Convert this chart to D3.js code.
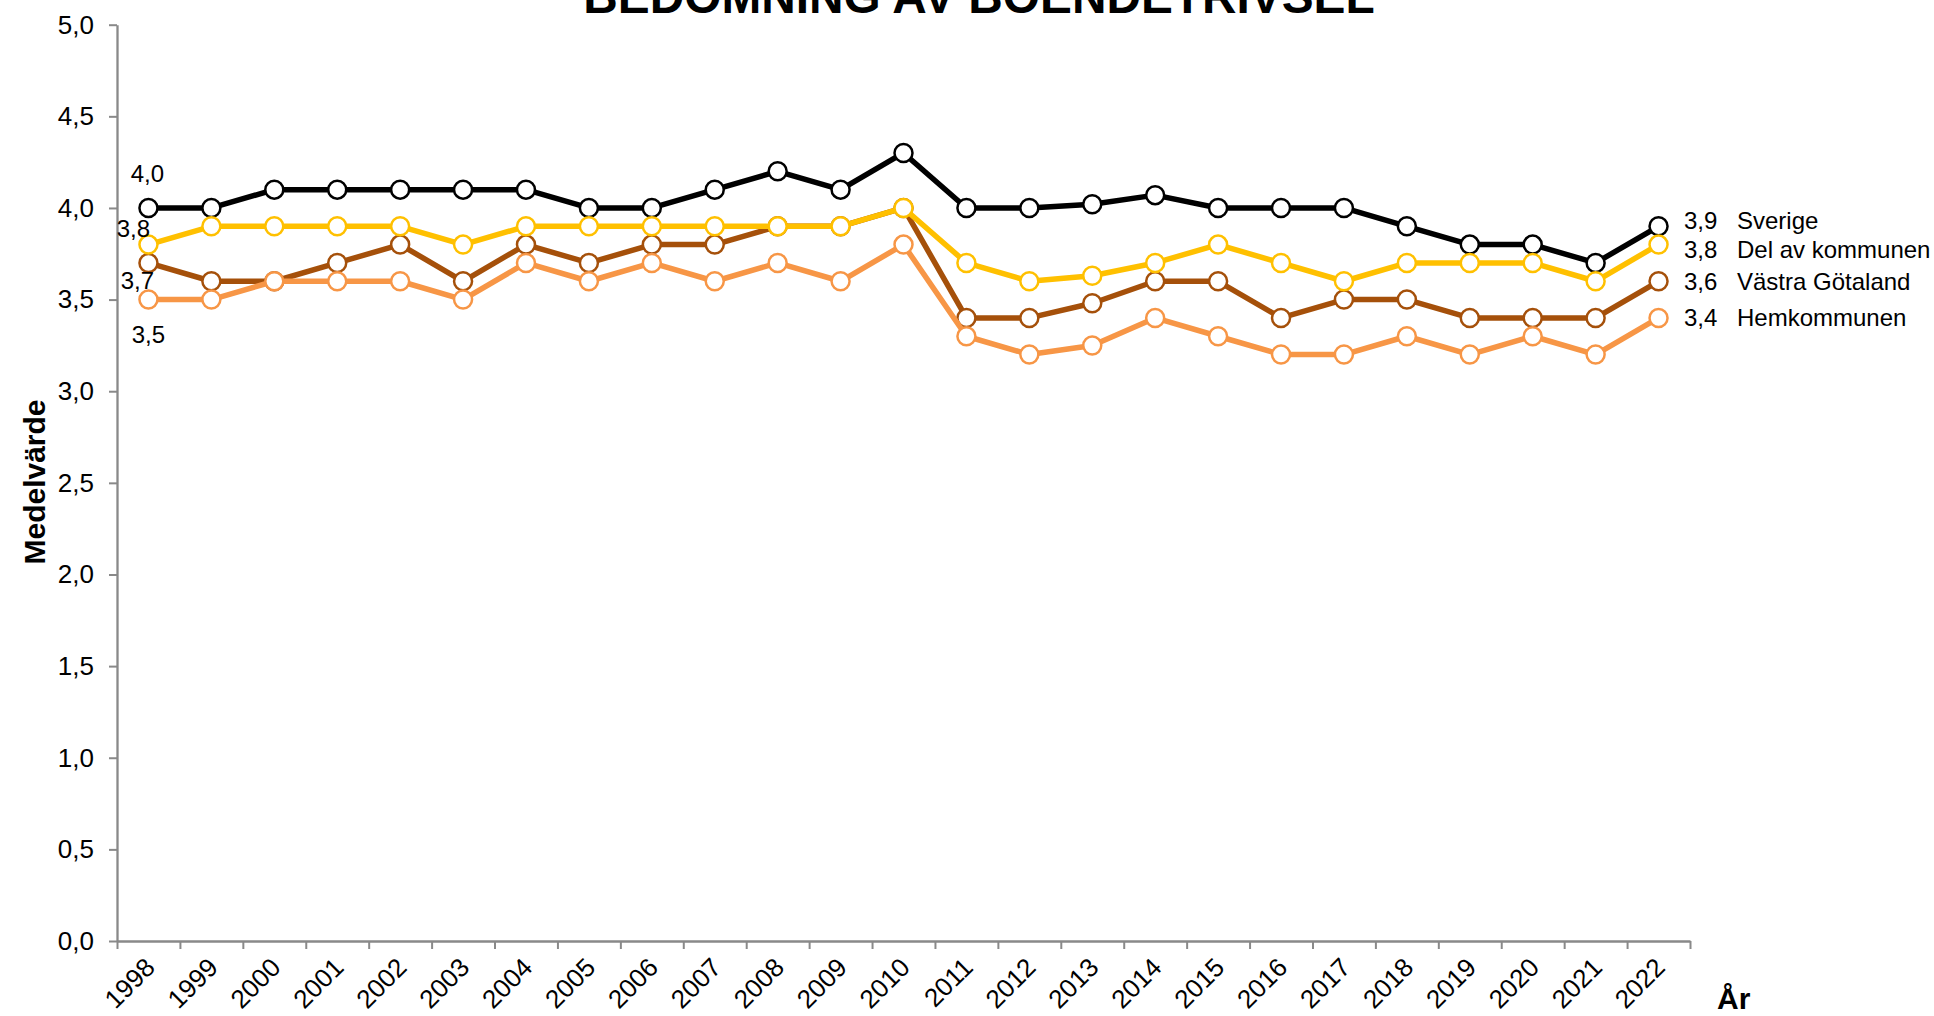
<!DOCTYPE html>
<html>
<head>
<meta charset="utf-8">
<script src="https://cdn.jsdelivr.net/npm/d3@7"></script>
<style>
  html, body { margin: 0; padding: 0; background: #fff; }
  svg { display: block; font-family: "Liberation Sans", Arial, sans-serif; }
</style>
</head>
<body>
<svg id="chart" width="1934" height="1016"></svg>
<script>
// ---- data ----
const years = ["1998","1999","2000","2001","2002","2003","2004","2005","2006","2007","2008","2009","2010","2011","2012","2013","2014","2015","2016","2017","2018","2019","2020","2021","2022"];
const sverige        = [4.0,4.0,4.1,4.1,4.1,4.1,4.1,4.0,4.0,4.1,4.2,4.1,4.3,4.0,4.0,4.02,4.07,4.0,4.0,4.0,3.9,3.8,3.8,3.7,3.9];
const vastraGotaland = [3.7,3.6,3.6,3.7,3.8,3.6,3.8,3.7,3.8,3.8,3.9,3.9,4.0,3.4,3.4,3.48,3.6,3.6,3.4,3.5,3.5,3.4,3.4,3.4,3.6];
const delAvKommunen  = [3.8,3.9,3.9,3.9,3.9,3.8,3.9,3.9,3.9,3.9,3.9,3.9,4.0,3.7,3.6,3.63,3.7,3.8,3.7,3.6,3.7,3.7,3.7,3.6,3.8];
const hemkommunen    = [3.5,3.5,3.6,3.6,3.6,3.5,3.7,3.6,3.7,3.6,3.7,3.6,3.8,3.3,3.2,3.25,3.4,3.3,3.2,3.2,3.3,3.2,3.3,3.2,3.4];
const seriesNames = ["Sverige","Västra Götaland","Del av kommunen","Hemkommunen"];
const seriesValues = [sverige, vastraGotaland, delAvKommunen, hemkommunen];
const yTicks = [0,0.5,1,1.5,2,2.5,3,3.5,4,4.5,5];
const chartTitle = "BEDÖMNING AV BOENDETRIVSEL";
const yTitle = "Medelvärde";
const xTitle = "År";

// ---- style / layout ----
const colors = ["#000000", "#A5500A", "#FFC000", "#F79646"];
const startOff = [[-1,-26],[-11,26],[-15,-7.5],[0,43.5]];
const endOff = [3, 9, 13.5, 8.5];

const svg = d3.select("#chart");
const plotLeft = 117, plotRight = 1690, plotTop = 24.7, plotBottom = 941;
const fmt = v => d3.format(".1f")(v).replace(".", ",");

const x = d3.scaleBand().domain(years).range([plotLeft, plotRight]).paddingInner(0).paddingOuter(0);
const bw = x.bandwidth();
const cx = c => x(c) + bw / 2;
const y = d3.scaleLinear().domain([0, 5]).range([plotBottom, plotTop]);

// title (partially cut at top, as in the reference)
svg.append("text")
  .attr("x", 979).attr("y", 13)
  .attr("text-anchor", "middle")
  .attr("font-weight", "bold").attr("font-size", 47.8)
  .attr("fill", "#000")
  .text(chartTitle);

// y axis
const yAxis = svg.append("g")
  .attr("transform", `translate(${plotLeft},0)`)
  .call(d3.axisLeft(y).tickValues(yTicks).tickFormat(fmt).tickSize(8).tickPadding(15).tickSizeOuter(0));
yAxis.select(".domain").attr("stroke", "#898989").attr("stroke-width", 2.3);
yAxis.selectAll(".tick line").attr("stroke", "#898989").attr("stroke-width", 2);
yAxis.selectAll(".tick text").attr("font-size", 26).attr("fill", "#000")
  .attr("font-family", "Liberation Sans, Arial, sans-serif");

// x axis: ticks at band edges
const xi = d3.scaleLinear().domain([0, years.length]).range([plotLeft, plotRight]);
const xAxis = svg.append("g")
  .attr("transform", `translate(0,${plotBottom})`)
  .call(d3.axisBottom(xi).tickValues(d3.range(0, years.length + 1)).tickFormat("").tickSize(8).tickSizeOuter(0));
xAxis.select(".domain").attr("stroke", "#898989").attr("stroke-width", 2.3);
xAxis.selectAll(".tick line").attr("stroke", "#898989").attr("stroke-width", 2);

// x tick labels rotated
svg.append("g").selectAll("text")
  .data(years).join("text")
  .attr("transform", d => `translate(${cx(d) + 8},${plotBottom + 28}) rotate(-45)`)
  .attr("text-anchor", "end")
  .attr("font-size", 26).attr("fill", "#000")
  .text(d => d);

// axis titles
svg.append("text")
  .attr("transform", `translate(45,482) rotate(-90)`)
  .attr("text-anchor", "middle")
  .attr("font-weight", "bold").attr("font-size", 30)
  .attr("fill", "#000")
  .text(yTitle);
svg.append("text")
  .attr("x", 1717).attr("y", 1009)
  .attr("font-weight", "bold").attr("font-size", 30)
  .attr("fill", "#000")
  .text(xTitle);

// series
const line = d3.line().x((d, i) => cx(years[i])).y(d => y(d));
seriesValues.forEach((vals, s) => {
  const g = svg.append("g");
  g.append("path")
    .datum(vals)
    .attr("d", line)
    .attr("fill", "none")
    .attr("stroke", colors[s])
    .attr("stroke-width", 5.5)
    .attr("stroke-linejoin", "round");
  g.selectAll("circle")
    .data(vals).join("circle")
    .attr("cx", (d, i) => cx(years[i]))
    .attr("cy", d => y(d))
    .attr("r", 9)
    .attr("fill", "#fff")
    .attr("stroke", colors[s])
    .attr("stroke-width", 2.5);
});

// start labels
seriesValues.forEach((vals, s) => {
  svg.append("text")
    .attr("x", cx(years[0]) + startOff[s][0])
    .attr("y", y(vals[0]) + startOff[s][1])
    .attr("text-anchor", "middle")
    .attr("font-size", 24).attr("fill", "#000")
    .text(fmt(vals[0]));
});

// end labels
seriesValues.forEach((vals, s) => {
  const last = vals.length - 1;
  const ly = y(vals[last]) + endOff[s];
  svg.append("text")
    .attr("x", 1684).attr("y", ly)
    .attr("font-size", 24).attr("fill", "#000")
    .text(fmt(vals[last]));
  svg.append("text")
    .attr("x", 1737).attr("y", ly)
    .attr("font-size", 24).attr("fill", "#000")
    .text(seriesNames[s]);
});
</script>
</body>
</html>
